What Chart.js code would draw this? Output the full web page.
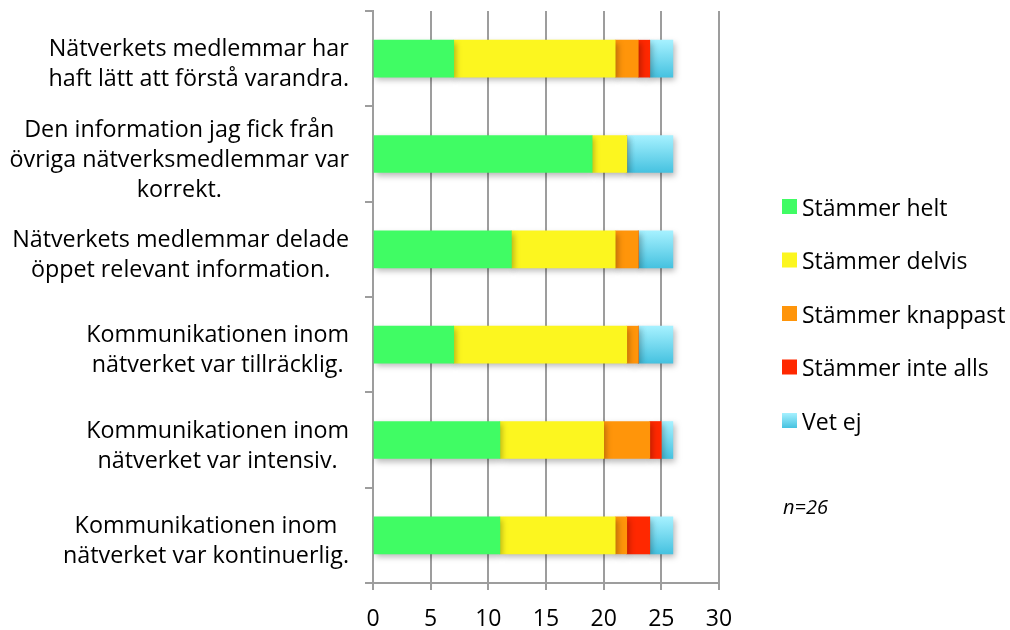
<!DOCTYPE html>
<html>
<head>
<meta charset="utf-8">
<title>Kommunikation i nätverket</title>
<script src="https://cdn.jsdelivr.net/npm/chart.js@4/dist/chart.umd.min.js"></script>
<style>
    html, body { margin: 0; padding: 0; background: #fff; }
    #wrap { width: 1010px; height: 630px; position: relative; }
</style>
</head>
<body>
<div id="wrap"><canvas id="surveyChart"></canvas></div>
<script>
const questions = [
    ['Nätverkets medlemmar har', 'haft lätt att förstå varandra.'],
    ['Den information jag fick från', 'övriga nätverksmedlemmar var', 'korrekt.'],
    ['Nätverkets medlemmar delade', 'öppet relevant information.'],
    ['Kommunikationen inom', 'nätverket var tillräcklig.'],
    ['Kommunikationen inom', 'nätverket var intensiv.'],
    ['Kommunikationen inom', 'nätverket var kontinuerlig.']
];
const seriesNames = ['Stämmer helt', 'Stämmer delvis', 'Stämmer knappast', 'Stämmer inte alls', 'Vet ej'];
const stammerHelt = [7, 19, 12, 7, 11, 11];
const stammerDelvis = [14, 3, 9, 15, 9, 10];
const stammerKnappast = [2, 0, 2, 1, 4, 1];
const stammerInteAlls = [1, 0, 0, 0, 1, 2];
const vetEj = [2, 4, 3, 3, 1, 2];
const xTicks = [0, 5, 10, 15, 20, 25, 30];
const sampleNote = 'n=26';

const FONT = '"Open Sans", "Noto Sans", sans-serif';
const GRID = '#9d9d9d';
const BAR = 37;
const solidColors = ['#40fc64', '#fcf61f', '#ff950a', '#ff2800'];
const vetEjStops = ['#a6f1ff', '#46c2e0'];

function vetEjFill(c) {
    const chart = c.chart;
    const y = chart.scales.y;
    if (!y || c.dataIndex === undefined) return vetEjStops[1];
    const mid = y.getPixelForValue(c.dataIndex);
    if (!isFinite(mid)) return vetEjStops[1];
    const g = chart.ctx.createLinearGradient(0, mid - BAR / 2, 0, mid + BAR / 2);
    g.addColorStop(0, vetEjStops[0]);
    g.addColorStop(1, vetEjStops[1]);
    return g;
}

const seriesValues = [stammerHelt, stammerDelvis, stammerKnappast, stammerInteAlls, vetEj];
const datasets = seriesValues.map((vals, i) => ({
    label: seriesNames[i],
    data: vals,
    backgroundColor: i < 4 ? solidColors[i] : vetEjFill,
    borderWidth: 0,
    barThickness: BAR
}));

// soft drop shadow under the bars
const barShadow = {
    id: 'barShadow',
    beforeDatasetsDraw(chart) {
        const ctx = chart.ctx;
        ctx.save();
        ctx.shadowColor = 'rgba(0, 0, 0, 0.28)';
        ctx.shadowBlur = 6;
        ctx.shadowOffsetX = 2;
        ctx.shadowOffsetY = 3;
    },
    afterDatasetsDraw(chart) {
        chart.ctx.restore();
    }
};

// question labels: each block right-aligned to the axis, lines centered inside it
const questionLabels = {
    id: 'questionLabels',
    afterDraw(chart) {
        const ctx = chart.ctx;
        const yScale = chart.scales.y;
        const right = chart.chartArea.left - 24;
        ctx.save();
        ctx.font = '23.3px ' + FONT;
        ctx.fillStyle = '#000';
        ctx.textAlign = 'center';
        ctx.textBaseline = 'middle';
        questions.forEach((lines, i) => {
            const maxW = Math.max(...lines.map(l => ctx.measureText(l).width));
            const cx = right - maxW / 2;
            const cy = yScale.getPixelForTick(i) + 6;
            lines.forEach((line, j) => {
                ctx.fillText(line, cx, cy + (j - (lines.length - 1) / 2) * 30);
            });
        });
        ctx.restore();
    }
};

// legend column plus the sample size note
const sideLegend = {
    id: 'sideLegend',
    afterDraw(chart) {
        const ctx = chart.ctx;
        const x = 782;
        ctx.save();
        chart.data.datasets.forEach((ds, i) => {
            const top = 199 + i * 53.5;
            if (i < 4) {
                ctx.fillStyle = solidColors[i];
            } else {
                const g = ctx.createLinearGradient(0, top, 0, top + 15);
                g.addColorStop(0, vetEjStops[0]);
                g.addColorStop(1, vetEjStops[1]);
                ctx.fillStyle = g;
            }
            ctx.fillRect(x, top, 15, 15);
            ctx.fillStyle = '#000';
            ctx.font = '23px ' + FONT;
            ctx.textAlign = 'left';
            ctx.textBaseline = 'middle';
            ctx.fillText(ds.label, x + 20, top + 10);
        });
        ctx.font = 'italic 20px ' + FONT;
        ctx.fillText(sampleNote, x + 1, 508);
        ctx.restore();
    }
};

const ctx = document.getElementById('surveyChart').getContext('2d');
const surveyChart = new Chart(ctx, {
    type: 'bar',
    data: {
        labels: questions,
        datasets: datasets
    },
    options: {
        indexAxis: 'y',
        responsive: true,
        maintainAspectRatio: false,
        animation: false,
        layout: {
            padding: { top: 11, right: 291, bottom: 0, left: 0 }
        },
        plugins: {
            legend: { display: false },
            tooltip: { enabled: false }
        },
        scales: {
            x: {
                type: 'linear',
                stacked: true,
                min: 0,
                max: 30,
                afterBuildTicks: (scale) => {
                    scale.ticks = xTicks.map(v => ({ value: v }));
                },
                afterFit: (scale) => { scale.height = 47; },
                grid: {
                    color: GRID,
                    lineWidth: 2,
                    tickLength: 7
                },
                border: { color: GRID, width: 2 },
                ticks: {
                    color: '#000',
                    padding: 16,
                    font: { family: FONT, size: 23 }
                }
            },
            y: {
                stacked: true,
                afterFit: (scale) => { scale.width = 373; },
                grid: {
                    offset: true,
                    drawOnChartArea: false,
                    tickLength: 8,
                    color: GRID,
                    lineWidth: 2
                },
                border: { color: GRID, width: 2 },
                ticks: { display: false }
            }
        }
    },
    plugins: [barShadow, questionLabels, sideLegend]
});
</script>
</body>
</html>
